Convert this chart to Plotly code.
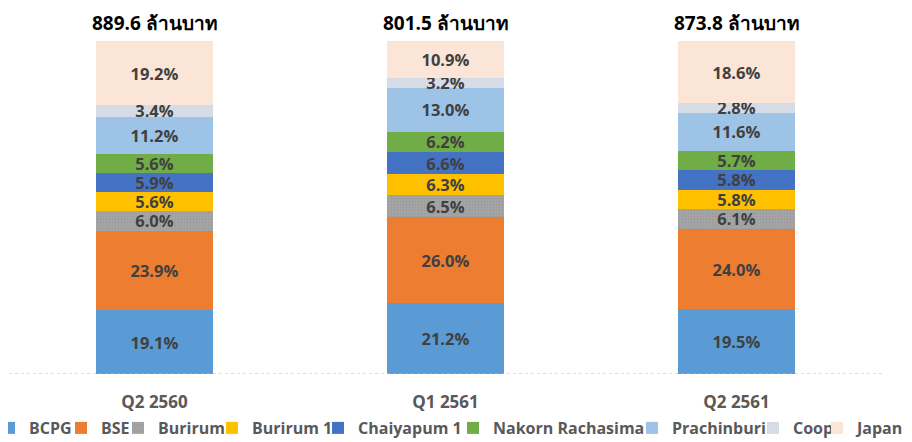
import plotly.graph_objects as go

categories = ["Q2 2560", "Q1 2561", "Q2 2561"]
totals = [889.6, 801.5, 873.8]
total_unit = "ล้านบาท"

series_names = ["BCPG", "BSE", "Burirum", "Burirum 1", "Chaiyapum 1",
                "Nakorn Rachasima", "Prachinburi", "Coop", "Japan"]
bcpg = [19.1, 21.2, 19.5]
bse = [23.9, 26.0, 24.0]
burirum = [6.0, 6.5, 6.1]
burirum1 = [5.6, 6.3, 5.8]
chaiyapum1 = [5.9, 6.6, 5.8]
nakorn = [5.6, 6.2, 5.7]
prachinburi = [11.2, 13.0, 11.6]
coop = [3.4, 3.2, 2.8]
japan = [19.2, 10.9, 18.6]

series_values = [bcpg, bse, burirum, burirum1, chaiyapum1, nakorn, prachinburi, coop, japan]
colors = ["#5B9BD5", "#ED7D31", "#A5A5A5", "#FFC000", "#4472C4",
          "#70AD47", "#9DC3E6", "#D6DCE5", "#FBE5D6"]

# page-pixel x where each legend item's text begins in the reference
legend_text_px = [29, 101, 158, 252, 358, 493, 672, 793, 857]

FONT = "Open Sans, Noto Sans, DejaVu Sans, sans-serif"
OFF = 8  # default page body margin
W, H = 912 - OFF, 442 - OFF
ML, MR, MT, MB = 9 - OFF, W - (882 - OFF), 41 - OFF, H - (374 - OFF)
PW = W - ML - MR
PH = H - MT - MB

fig = go.Figure()
legend_layouts = {}
for i, (name, vals, col) in enumerate(zip(series_names, series_values, colors)):
    marker = dict(color=col, line=dict(width=0))
    if name == "Burirum":
        marker["pattern"] = dict(shape=".", fgcolor="#8f8f8f", bgcolor=col,
                                 size=3, solidity=0.3)
    lg = "legend" if i == 0 else f"legend{i + 1}"
    fig.add_trace(go.Bar(
        name=name, x=categories, y=vals, marker=marker,
        text=[f"{v:.1f}%" for v in vals],
        textposition="inside", insidetextanchor="middle", textangle=0,
        textfont=dict(family=FONT, size=16.5, color="#404040", weight="bold"),
        constraintext="none", cliponaxis=False, legend=lg,
    ))
    left_px = legend_text_px[i] - OFF - 40
    legend_layouts[lg] = dict(
        orientation="h", x=(left_px - ML) / PW, xanchor="left",
        y=((374 - OFF) - (428 - OFF)) / PH, yanchor="middle",
        font=dict(family=FONT, size=16, color="#595959", weight="bold"),
        bgcolor="rgba(0,0,0,0)", borderwidth=0,
    )

for cat, tot in zip(categories, totals):
    fig.add_annotation(x=cat, y=100, xref="x", yref="y", yanchor="middle",
                       yshift=18, showarrow=False,
                       text=f"<b>{tot:.1f} {total_unit}</b>",
                       font=dict(family=FONT, size=19, color="#000000"))

fig.add_shape(type="line", xref="paper", yref="y", x0=0, x1=1, y0=0, y1=0,
              line=dict(color="#bfbfbf", width=1, dash="dot"))

fig.update_layout(
    barmode="stack", bargap=0.6,
    width=W, height=H,
    margin=dict(l=ML, r=MR, t=MT, b=MB, autoexpand=False),
    paper_bgcolor="white", plot_bgcolor="white",
    uniformtext=dict(mode="show", minsize=16.5),
    showlegend=True,
    font=dict(family=FONT),
    **legend_layouts,
)
fig.update_xaxes(showgrid=False, showline=False, ticks="", ticklabelstandoff=16,
                 tickfont=dict(family=FONT, size=17, color="#595959", weight="bold"))
fig.update_yaxes(range=[0, 100], visible=False, showgrid=False)

fig.write_html("out.html")
